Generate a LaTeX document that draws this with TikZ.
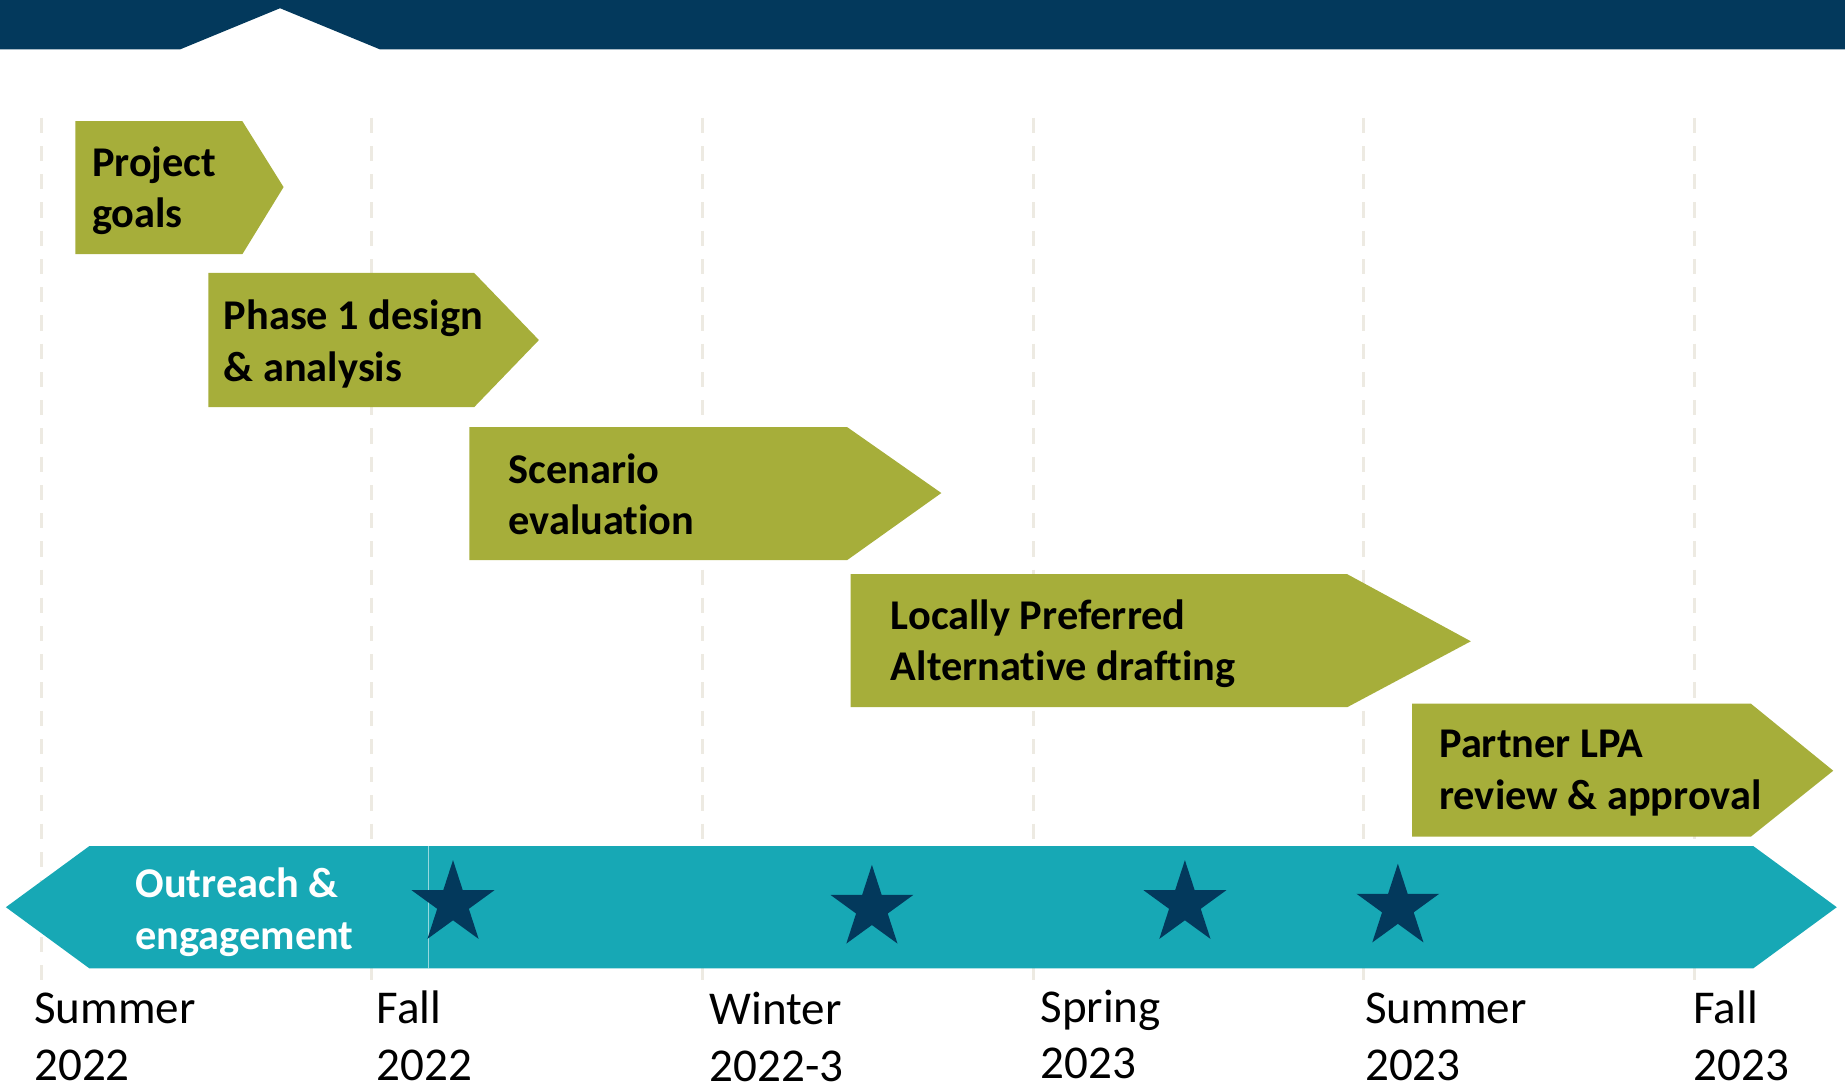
\documentclass[tikz,border=0pt]{standalone}
\usepackage{fontspec}
\setmainfont[Ligatures=NoCommon]{Carlito}
\usetikzlibrary{shapes.geometric}

\definecolor{barblue}{RGB}{3,57,92}
\definecolor{phasegreen}{RGB}{166,174,58}
\definecolor{outreachteal}{RGB}{23,168,181}
\definecolor{gridgray}{RGB}{237,234,226}

\begin{document}
\begin{tikzpicture}[x=1pt, y=-1pt,
  phase/.style={fill=phasegreen},
  outreach/.style={fill=outreachteal},
  gridline/.style={draw=gridgray, line width=2.5pt, dash pattern=on 13pt off 11pt},
  phasetext/.style={anchor=west, inner sep=0pt, align=left,
    font=\fontsize{36}{44}\selectfont\bfseries},
  seasontext/.style={anchor=north west, inner sep=0pt, align=left,
    font=\fontsize{40}{48}\selectfont},
  milestone/.style={star, star points=5, star point ratio=2.618,
    minimum size=74pt, inner sep=0pt, fill=barblue}]

  \useasboundingbox (0,0) rectangle (1568,928);

  % top bar with notch
  \fill[barblue] (0,0) -- (1568,0) -- (1568,42) -- (323,42) -- (238,7)
    -- (153,42) -- (0,42) -- cycle;

  % season grid
  \foreach \x in {35,316,597,878,1159,1440}
    \draw[gridline] (\x,100) -- (\x,835);

  % phases
  \fill[phase] (64,103) -- (206,103) -- (241,159) -- (206,216) -- (64,216) -- cycle;
  \node[phasetext] (goals) at (78,162) {Project\\goals};

  \fill[phase] (177,232) -- (403,232) -- (458,289) -- (403,346) -- (177,346) -- cycle;
  \node[phasetext] (design) at (190,292) {Phase 1 design\\\& analysis};

  \fill[phase] (399,363) -- (720,363) -- (800,419) -- (720,476) -- (399,476) -- cycle;
  \node[phasetext] (scenario) at (432,420) {Scenario\\evaluation};

  \fill[phase] (723,488) -- (1145,488) -- (1250,545) -- (1145,601) -- (723,601) -- cycle;
  \node[phasetext] (lpa) at (757,547) {Locally Preferred\\Alternative drafting};

  \fill[phase] (1200,598) -- (1488,598) -- (1558,655) -- (1488,711) -- (1200,711) -- cycle;
  \node[phasetext] (approval) at (1223,657) {Partner LPA\\review \& approval};

  % outreach band
  \fill[outreach] (5,771) -- (76,719) -- (364,719) -- (364,823) -- (76,823) -- cycle;
  \fill[outreach] (364,719) -- (1490,719) -- (1561,771) -- (1490,823) -- (364,823) -- cycle;
  \draw[white!55!outreachteal, line width=0.6pt] (364,719) -- (364,823);
  \node[phasetext, text=white] (outreach) at (115,775) {Outreach \&\\engagement};

  % milestones
  \node[milestone] (m1) at (385,768) {};
  \node[milestone] (m2) at (741,772) {};
  \node[milestone] (m3) at (1007,768) {};
  \node[milestone] (m4) at (1188,771) {};

  % seasons
  \node[seasontext] (su22) at (29,844) {Summer\\2022};
  \node[seasontext] (fa22) at (320,842) {Fall\\2022};
  \node[seasontext] (wi23) at (603,843) {Winter\\2022-3};
  \node[seasontext] (sp23) at (884,841) {Spring\\2023};
  \node[seasontext] (su23) at (1160,844) {Summer\\2023};
  \node[seasontext] (fa23) at (1439,842) {Fall\\2023};

\end{tikzpicture}
\end{document}
